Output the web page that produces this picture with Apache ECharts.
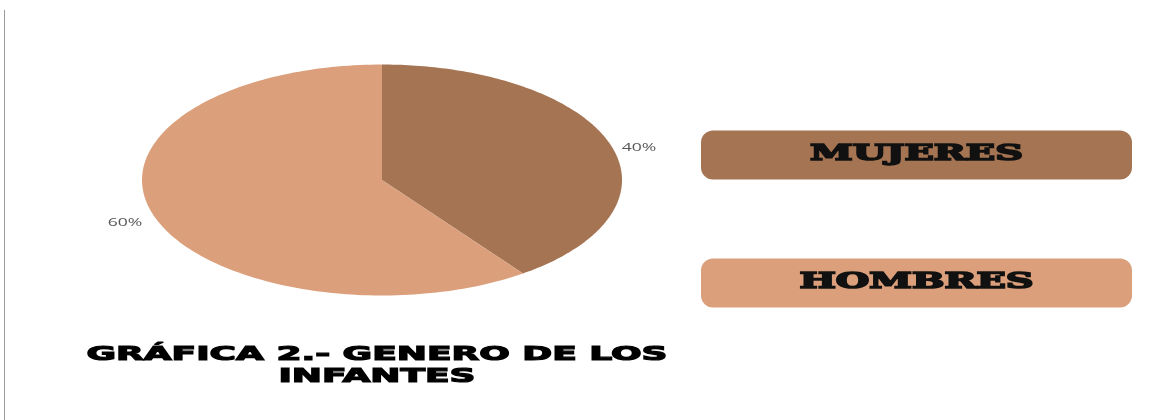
<!DOCTYPE html>
<html>
<head>
<meta charset="utf-8">
<script src="https://cdn.jsdelivr.net/npm/echarts@6/dist/echarts.min.js"></script>
<style>
  html, body { margin: 0; padding: 0; background: #ffffff; }
  #chart { width: 1152px; height: 420px; }
</style>
</head>
<body>
<div id="chart"></div>
<script>
// Gender split of the children surveyed
const categories = ['MUJERES', 'HOMBRES'];
const values = [40, 60];
const colors = ['#A57452', '#DBA07B'];
const titleLines = ['GRÁFICA 2.- GENERO DE LOS', 'INFANTES'];

const total = values.reduce((a, b) => a + b, 0);
const starts = [];
let acc = 0;
values.forEach(v => { starts.push(acc); acc += v; });
const percentLabels = values.map(v => Math.round(v / total * 100) + '%');

const seriesData = values.map((v, i) => ({
  name: categories[i],
  value: [v, starts[i]]
}));

// Elliptical pie: each sector is traced on a unit circle in data space,
// and the grid's unequal width/height turns it into an ellipse.
function renderSector(params, api) {
  const i = params.dataIndex;
  const v = api.value(0);
  const s = api.value(1);
  const a0 = s / total * Math.PI * 2;
  const a1 = (s + v) / total * Math.PI * 2;
  const pts = [api.coord([0, 0])];
  const n = 160;
  for (let k = 0; k <= n; k++) {
    const a = a0 + (a1 - a0) * k / n;
    pts.push(api.coord([Math.sin(a), Math.cos(a)]));
  }
  const am = (a0 + a1) / 2;
  const lp = api.coord([Math.sin(am) * 1.05, Math.cos(am) * 1.05]);
  const onRight = Math.sin(am) >= 0;
  return {
    type: 'group',
    children: [
      { type: 'polygon', shape: { points: pts }, style: { fill: colors[i] } },
      {
        type: 'text', x: lp[0], y: lp[1] + 5, scaleX: 1.6,
        style: {
          text: percentLabels[i], fill: '#595959', fontSize: 11,
          fontFamily: 'Open Sans', align: onRight ? 'left' : 'right', verticalAlign: 'middle'
        }
      }
    ]
  };
}

// Legend boxes
const legendBox = { x: 701, width: 431, height: 49, tops: [130.5, 258.5] };
const legendGraphics = categories.map((name, i) => ({
  type: 'group',
  children: [
    {
      type: 'rect',
      shape: { x: legendBox.x, y: legendBox.tops[i], width: legendBox.width, height: legendBox.height, r: 12 },
      style: { fill: colors[i] }
    },
    {
      type: 'text',
      x: legendBox.x + legendBox.width / 2,
      y: legendBox.tops[i] + legendBox.height / 2 - 1,
      scaleX: 1.75,
      style: {
        text: name, fill: '#111111', stroke: '#111111', lineWidth: 1.6,
        fontSize: 22, fontWeight: 'bold',
        fontFamily: 'DejaVu Serif', align: 'center', verticalAlign: 'middle'
      }
    }
  ]
}));

const titleGraphics = titleLines.map((line, i) => ({
  type: 'text',
  x: 377,
  y: 355 + i * 22,
  scaleX: 1.8,
  style: {
    text: line, fill: '#000000', stroke: '#000000', lineWidth: 1.2,
    fontSize: 20, fontWeight: 'bold',
    fontFamily: 'DejaVu Sans', align: 'center', verticalAlign: 'middle'
  }
}));

const chart = echarts.init(document.getElementById('chart'), null, { renderer: 'canvas' });
chart.setOption({
  backgroundColor: '#ffffff',
  animation: false,
  grid: { left: 142, top: 64.5, width: 480, height: 231 },
  xAxis: { type: 'value', min: -1, max: 1, show: false },
  yAxis: { type: 'value', min: -1, max: 1, show: false },
  series: [{
    type: 'custom',
    coordinateSystem: 'cartesian2d',
    renderItem: renderSector,
    encode: { x: -1, y: -1 },
    data: seriesData
  }],
  graphic: [
    { type: 'line', shape: { x1: 4.5, y1: 10, x2: 4.5, y2: 420 }, style: { stroke: '#9a9a9a', lineWidth: 1 } },
    ...legendGraphics,
    ...titleGraphics
  ]
});
</script>
</body>
</html>
